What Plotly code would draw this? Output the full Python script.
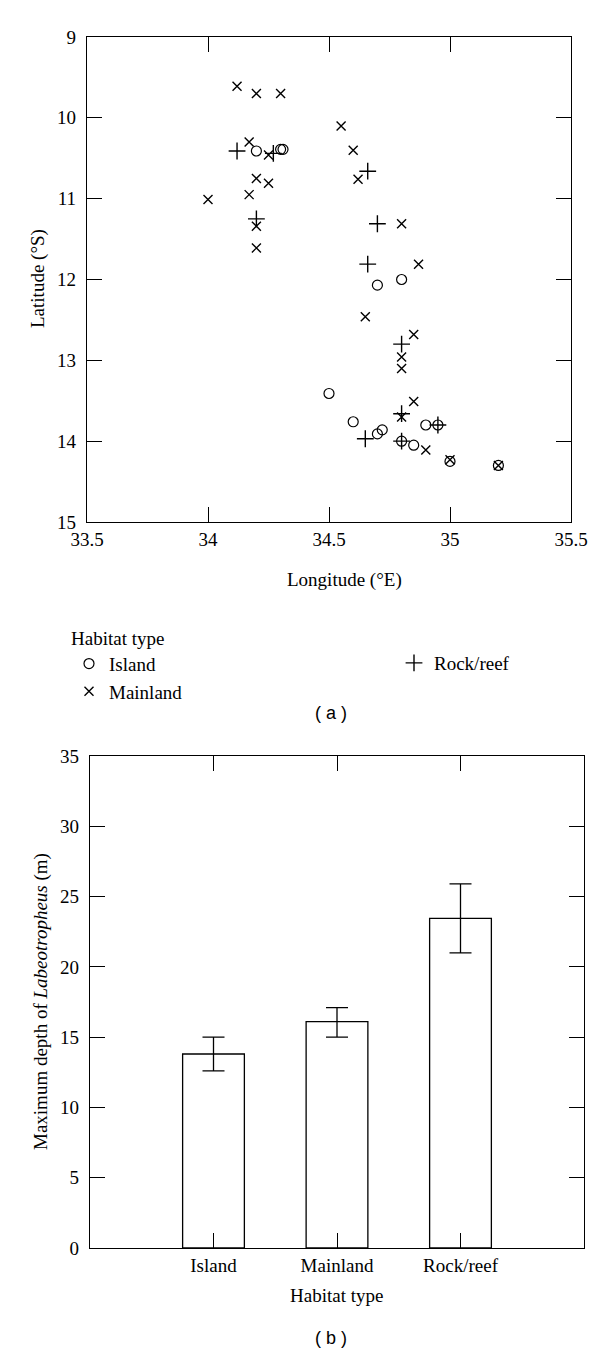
import plotly.graph_objects as go

# ---- Panel (a): sampling sites ----
island_lon = [34.20, 34.30, 34.31, 34.70, 34.80, 34.50, 34.60, 34.70, 34.72, 34.90, 34.95, 34.80, 34.85, 35.00, 35.20]
island_lat = [10.41, 10.39, 10.39, 12.07, 12.00, 13.41, 13.76, 13.91, 13.86, 13.80, 13.80, 14.00, 14.05, 14.25, 14.30]

mainland_lon = [34.12, 34.20, 34.30, 34.17, 34.25, 34.20, 34.25, 34.17, 34.00, 34.20, 34.20, 34.55, 34.60,
                34.62, 34.80, 34.87, 34.65, 34.85, 34.80, 34.80, 34.85, 34.80, 34.90, 35.00, 35.20]
mainland_lat = [9.61, 9.70, 9.70, 10.30, 10.46, 10.75, 10.81, 10.95, 11.01, 11.34, 11.61, 10.10, 10.40,
                10.76, 11.31, 11.81, 12.46, 12.68, 12.96, 13.10, 13.51, 13.70, 14.11, 14.23, 14.30]

rock_lon = [34.12, 34.27, 34.20, 34.66, 34.70, 34.66, 34.80, 34.80, 34.65, 34.95, 34.80]
rock_lat = [10.41, 10.44, 11.25, 10.66, 11.31, 11.81, 12.80, 13.66, 13.97, 13.80, 14.00]

lon_ticks = [33.5, 34, 34.5, 35, 35.5]
lon_labels = ["33.5", "34", "34.5", "35", "35.5"]
lat_ticks = [9, 10, 11, 12, 13, 14, 15]

# ---- Panel (b): maximum depth ----
habitats = ["Island", "Mainland", "Rock/reef"]
depth_mean = [13.8, 16.1, 23.45]
depth_err_plus = [1.2, 1.0, 2.45]
depth_err_minus = [1.2, 1.1, 2.45]
depth_ticks = [0, 5, 10, 15, 20, 25, 30, 35]

W, H = 600, 1349
SERIF = "Liberation Serif"
SANS = "Liberation Sans"
FS = 19

def px(x):
    return x / W

def py(y):
    return 1 - y / H

fig = go.Figure()

fig.add_trace(go.Scatter(
    x=island_lon, y=island_lat, mode="markers", name="Island",
    marker=dict(symbol="circle-open", size=10, color="black", line=dict(width=1.2, color="black")),
    xaxis="x", yaxis="y", legend="legend"))
fig.add_trace(go.Scatter(
    x=mainland_lon, y=mainland_lat, mode="markers", name="Mainland",
    marker=dict(symbol="x-thin", size=9, color="black", line=dict(width=1.4, color="black")),
    xaxis="x", yaxis="y", legend="legend"))
fig.add_trace(go.Scatter(
    x=rock_lon, y=rock_lat, mode="markers", name="Rock/reef",
    marker=dict(symbol="cross-thin", size=12, color="black", line=dict(width=1.4, color="black")),
    xaxis="x", yaxis="y", legend="legend2"))

fig.add_trace(go.Bar(
    x=[1, 2, 3], y=depth_mean, width=0.5, showlegend=False,
    marker=dict(color="white", line=dict(color="black", width=1.3)),
    error_y=dict(type="data", symmetric=False, array=depth_err_plus, arrayminus=depth_err_minus,
                 color="black", thickness=1.3, width=11),
    xaxis="x2", yaxis="y2"))

axis_common = dict(
    showline=True, linecolor="black", linewidth=1.3, mirror="ticks",
    ticks="inside", ticklen=15, tickwidth=1.2, tickcolor="black",
    showgrid=False, zeroline=False, automargin=False,
    tickfont=dict(family=SERIF, size=FS, color="black"),
)

fig.update_layout(
    width=W, height=H,
    margin=dict(l=0, r=0, t=0, b=0),
    paper_bgcolor="white", plot_bgcolor="white",
    font=dict(family=SERIF, size=FS, color="black"),
    xaxis=dict(domain=[px(79), px(563)], range=[33.5, 35.5], tickvals=lon_ticks,
               ticktext=lon_labels, anchor="y", **axis_common),
    yaxis=dict(domain=[py(514), py(29)], range=[15, 9], tickvals=lat_ticks,
               anchor="x", ticklabelstandoff=6, **axis_common),
    xaxis2=dict(domain=[px(82), px(576)], range=[0, 4], tickvals=[1, 2, 3], ticktext=habitats,
                anchor="y2", **axis_common),
    yaxis2=dict(domain=[py(1240), py(748)], range=[0, 35], tickvals=depth_ticks,
                anchor="x2", ticklabelstandoff=6, **axis_common),
    legend=dict(x=px(61), y=py(612), xanchor="left", yanchor="top",
                title=dict(text="Habitat type", font=dict(family=SERIF, size=FS)),
                font=dict(family=SERIF, size=FS), bgcolor="rgba(0,0,0,0)",
                tracegroupgap=0, itemsizing="trace"),
    legend2=dict(x=px(386), y=py(636), xanchor="left", yanchor="top",
                 font=dict(family=SERIF, size=FS), bgcolor="rgba(0,0,0,0)"),
    showlegend=True,
)

annotations = [
    dict(text="Latitude (°S)", x=px(30), y=py(271), textangle=-90),
    dict(text="Longitude (°E)", x=px(336), y=py(572)),
    dict(text="Maximum depth of <i>Labeotropheus</i> (m)", x=px(33), y=py(994), textangle=-90),
    dict(text="Habitat type", x=px(328), y=py(1287)),
    dict(text="( a )", x=px(323), y=py(705), font=dict(family=SANS, size=18, color="black")),
    dict(text="( b )", x=px(323), y=py(1330), font=dict(family=SANS, size=18, color="black")),
]
for a in annotations:
    a.setdefault("font", dict(family=SERIF, size=FS, color="black"))
    fig.add_annotation(xref="paper", yref="paper", showarrow=False,
                       xanchor="center", yanchor="middle", **a)

fig.write_html("out.html")
